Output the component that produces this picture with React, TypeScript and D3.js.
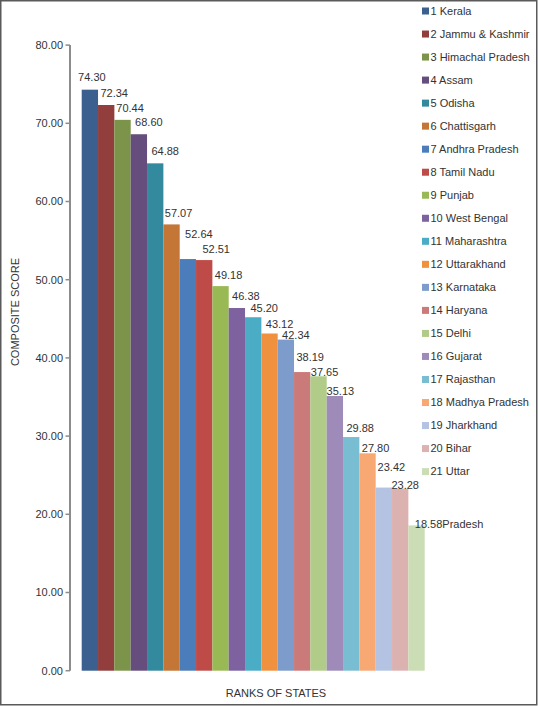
import React from "react";
import * as d3 from "d3";

const STATES = [
  "Kerala", "Jammu & Kashmir", "Himachal Pradesh", "Assam", "Odisha", "Chattisgarh",
  "Andhra Pradesh", "Tamil Nadu", "Punjab", "West Bengal", "Maharashtra", "Uttarakhand",
  "Karnataka", "Haryana", "Delhi", "Gujarat", "Rajasthan", "Madhya Pradesh", "Jharkhand",
  "Bihar", "Uttar",
];
const SCORES = [
  74.3, 72.34, 70.44, 68.6, 64.88, 57.07, 52.64, 52.51, 49.18, 46.38, 45.2, 43.12,
  42.34, 38.19, 37.65, 35.13, 29.88, 27.8, 23.42, 23.28, 18.58,
];
const Y_TICKS = [0, 10, 20, 30, 40, 50, 60, 70, 80];
const Y_TITLE = "COMPOSITE SCORE";
const X_TITLE = "RANKS OF STATES";
const LAST_SUFFIX = "Pradesh";

// styling (not data)
const COLORS = [
  "#3B6090", "#913E3C", "#7B9449", "#654D7D", "#338A9E", "#C47636", "#4A7DBA",
  "#BE4B48", "#99B955", "#7E62A0", "#4BACC6", "#F0913F", "#7D9CCB", "#CB7A7A",
  "#B1CB88", "#9F8BBA", "#79BDD2", "#F7A873", "#B3C3E1", "#DCB2B1", "#CADDB5",
];
// hand-placed label nudges relative to bar centre / bar top
const LABEL_NUDGE: [number, number][] = [
  [2, -13], [8, -12.3], [7.5, -12.2], [10, -11.6], [10, -12.6], [7, -11.6], [11, -25],
  [12, -11], [8, -10.7], [9, -12.3], [11, -9.4], [10, -9.4], [10, -4.3], [8, -15],
  [6, -4], [5.5, -5], [9, -9], [8, -5], [7.5, -20], [5, -3.3], [12, -1],
];

const W = 538;
const H = 706;
const FONT = "'Liberation Sans', Arial, sans-serif";

export default function App() {
  const x = d3.scaleBand<string>().domain(STATES).range([81.7, 424.7]).padding(0);
  const y = d3.scaleLinear().domain([0, 80]).range([670.7, 45.1]);
  const fmt = d3.format(".2f");
  const axisX = 70;
  const legendX = 422;
  const legendY0 = 11;
  const legendStep = 23.03;

  return (
    <svg
      width={W}
      height={H}
      style={{ position: "absolute", left: 0, top: 0, background: "#fff" }}
      fontFamily={FONT}
    >
      <rect x={0.75} y={0.75} width={536} height={704} fill="#fff" stroke="#5a5a5a" strokeWidth={1.5} />

      {/* bars */}
      {STATES.map((s, i) => (
        <rect
          key={s}
          x={x(s)!}
          y={y(SCORES[i])}
          width={x.bandwidth()}
          height={y(0) - y(SCORES[i])}
          fill={COLORS[i]}
        />
      ))}

      {/* y axis */}
      <line x1={axisX} x2={axisX} y1={y(80)} y2={y(0)} stroke="#8c8c8c" strokeWidth={2} />
      {Y_TICKS.map((t) => (
        <g key={t}>
          <line x1={axisX - 4.5} x2={axisX} y1={y(t)} y2={y(t)} stroke="#8c8c8c" strokeWidth={1.5} />
          <text x={63} y={y(t)} dy="0.35em" textAnchor="end" fontSize={11} fill="#333">
            {fmt(t)}
          </text>
        </g>
      ))}

      {/* value labels */}
      {STATES.map((s, i) => {
        const cx = x(s)! + x.bandwidth() / 2 + LABEL_NUDGE[i][0];
        const cy = y(SCORES[i]) + LABEL_NUDGE[i][1];
        const last = i === STATES.length - 1;
        return (
          <g key={"l" + s}>
            <text x={cx} y={cy} dy="0.35em" textAnchor="middle" fontSize={11} fill="#333">
              {fmt(SCORES[i])}
            </text>
            {last && (
              <text x={cx + 13.8} y={cy} dy="0.35em" textAnchor="start" fontSize={11} fill="#333">
                {LAST_SUFFIX}
              </text>
            )}
          </g>
        );
      })}

      {/* legend */}
      {STATES.map((s, i) => (
        <g key={"g" + s} transform={`translate(${legendX},${legendY0 + i * legendStep})`}>
          <rect x={0} y={-3.5} width={7} height={7} fill={COLORS[i]} />
          <text x={8.5} y={0} dy="0.35em" fontSize={11} fill="#333">
            {`${i + 1} ${s}`}
          </text>
        </g>
      ))}

      {/* titles */}
      <text
        transform={`translate(15,${312}) rotate(-90)`}
        textAnchor="middle"
        dy="0.35em"
        fontSize={11}
        fill="#333"
      >
        {Y_TITLE}
      </text>
      <text x={276} y={692.7} dy="0.35em" textAnchor="middle" fontSize={11} fill="#333">
        {X_TITLE}
      </text>
    </svg>
  );
}
